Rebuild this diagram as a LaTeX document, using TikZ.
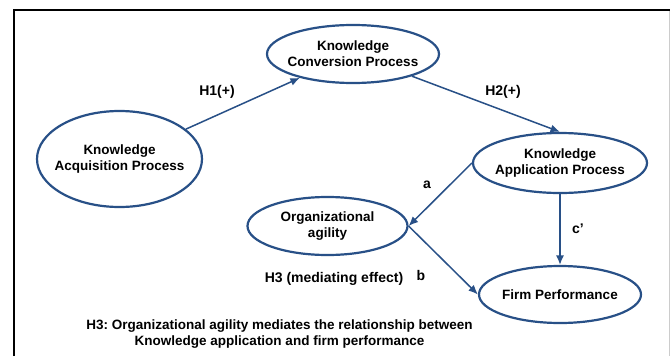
\documentclass[tikz,border=0pt]{standalone}
\usepackage{fontspec}
\setmainfont{Liberation Sans}
\usetikzlibrary{shapes.geometric,arrows.meta}
\frenchspacing
\definecolor{ellblue}{RGB}{40,80,135}
\tikzset{
  ell/.style={ellipse, draw=ellblue, line width=2.2pt, inner sep=0pt},
  etext/.style={align=center, inner sep=0pt, font=\fontsize{13.5}{16}\selectfont\bfseries},
  conn/.style={draw=ellblue, line width=1.5pt, -{Latex[length=9.5pt,width=8pt]}},
  lbl/.style={font=\fontsize{14}{16}\selectfont\bfseries, inner sep=0pt},
  note/.style={font=\fontsize{13.5}{16}\selectfont\bfseries\frenchspacing, inner sep=0pt, align=center}
}
\begin{document}
\begin{tikzpicture}[x=1pt,y=-1pt]
\useasboundingbox (0,0) rectangle (671,356);
\fill[white] (0,0) rectangle (671,356);
\draw[line width=1.2pt] (14,356) -- (14,10) -- (670,10);
\draw[line width=0.8pt, black!20] (669,11) -- (669,356);

\node[ell, minimum width=172pt, minimum height=58pt] (conv) at (353,54) {};
\node[ell, minimum width=165pt, minimum height=96pt] (acq) at (119.5,159) {};
\node[ell, minimum width=174pt, minimum height=60pt] (app) at (560,163) {};
\node[ell, minimum width=160pt, minimum height=58pt] (oa) at (327.5,226) {};
\node[ell, minimum width=162pt, minimum height=57pt] (fp) at (560,294.5) {};

\node[etext] (convt) at (conv) {Knowledge\\Conversion Process};
\node[etext] (acqt) at (acq) {Knowledge\\Acquisition Process};
\node[etext] (appt) at (app) {Knowledge\\Application Process};
\node[etext] (oat) at (oa) {Organizational\\agility};
\node[etext] (fpt) at (fp) {Firm Performance};

\draw[conn] (acq) -- (conv);
\draw[conn] (conv) -- (app.north);
\draw[conn] (app.west) -- (oa.east);
\draw[conn] (oa.east) -- (fp.west);
\draw[conn] (app.south) -- (fp.north);

\node[lbl] (h1) at (217,92) {H1(+)};
\node[lbl] (h2) at (503,92) {H2(+)};
\node[lbl] (la) at (427,185) {a};
\node[lbl] (lc) at (578,229) {c’};
\node[lbl] (lb) at (421,275) {b};
\node[lbl] (h3) at (334,279) {H3 (mediating effect)};
\node[note] (nt) at (279.5,334) {H3: Organizational agility mediates the relationship between\\Knowledge application and firm performance};
\end{tikzpicture}
\end{document}
